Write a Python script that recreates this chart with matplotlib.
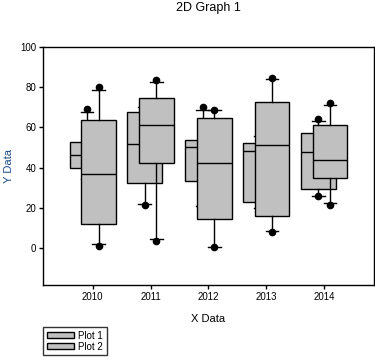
import numpy as np
import matplotlib
matplotlib.use('Agg')
import matplotlib.pyplot as plt
from matplotlib.patches import Patch

plt.rcParams['font.family'] = ['Liberation Sans', 'DejaVu Sans']

years = [2010, 2011, 2012, 2013, 2014]

# Plot 1: whisker low, Q1, median, Q3, whisker high, outliers
p1_low = [34.3, 21.9, 20.9, 19.9, 26.1]
p1_q1 = [39.7, 32.3, 33.6, 22.9, 29.3]
p1_med = [46.2, 51.7, 50.2, 48.2, 47.7]
p1_q3 = [52.7, 67.6, 53.8, 52.2, 57.1]
p1_high = [67.7, 70.0, 68.5, 55.6, 63.2]
p1_out = [[69.0], [21.5], [70.3], [], [64.1, 26.0]]

# Plot 2
p2_low = [2.0, 4.5, 0.8, 8.6, 22.4]
p2_q1 = [12.1, 42.2, 14.4, 15.9, 34.8]
p2_med = [36.8, 61.1, 42.2, 51.2, 43.7]
p2_q3 = [63.7, 74.5, 64.6, 72.5, 61.1]
p2_high = [78.5, 82.5, 68.5, 84.0, 71.0]
p2_out = [[80.0, 1.1], [83.5, 3.6], [68.5, 0.5], [84.6, 7.9], [72.0, 21.5]]


def make_stats(low, q1, med, q3, high, out):
    stats = []
    for i in range(len(low)):
        stats.append({'whislo': low[i], 'q1': q1[i], 'med': med[i],
                      'q3': q3[i], 'whishi': high[i], 'fliers': out[i]})
    return stats


fig = plt.figure(figsize=(3.75, 3.63), dpi=100)
ax = fig.add_axes([0.1147, 0.2149, 0.8823, 0.6556])

box_color = '#C0C0C0'
common = dict(widths=0.6, patch_artist=True, showcaps=True,
              boxprops=dict(facecolor=box_color, edgecolor='black', linewidth=1.0),
              medianprops=dict(color='black', linewidth=1.0),
              whiskerprops=dict(color='black', linewidth=1.0),
              capprops=dict(color='black', linewidth=1.0),
              flierprops=dict(marker='o', markerfacecolor='black',
                              markeredgecolor='black', markersize=4.5))

x = np.array(years, dtype=float)
ax.bxp(make_stats(p1_low, p1_q1, p1_med, p1_q3, p1_high, p1_out),
       positions=x - 0.1, zorder=2, **common)
ax.bxp(make_stats(p2_low, p2_q1, p2_med, p2_q3, p2_high, p2_out),
       positions=x + 0.1, zorder=3, **common)

# shorten caps to SigmaPlot-like width
for line in ax.lines:
    xd = line.get_xdata()
    if len(xd) == 2 and xd[0] != xd[1]:
        yd = line.get_ydata()
        if yd[0] == yd[1] and abs(xd[1] - xd[0]) < 0.35:
            c = (xd[0] + xd[1]) / 2
            line.set_xdata([c - 0.11, c + 0.11])

ax.set_xlim(2009.14, 2014.86)
ax.set_ylim(-18.3, 100)
ax.set_xticks(years)
ax.set_xticklabels([str(y) for y in years], fontsize=7)
ax.set_yticks([0, 20, 40, 60, 80, 100])
ax.set_yticklabels(['0', '20', '40', '60', '80', '100'], fontsize=7)
ax.tick_params(direction='out', length=3, width=1, pad=2)
for s in ax.spines.values():
    s.set_linewidth(1.0)

ax.set_xlabel('X Data', fontsize=8, labelpad=9)
ax.set_ylabel('Y Data', fontsize=8, color='#1a4a8a', labelpad=4)
fig.suptitle('2D Graph 1', fontsize=9, y=0.995, x=0.556)

handles = [Patch(facecolor=box_color, edgecolor='black', linewidth=1.0),
           Patch(facecolor=box_color, edgecolor='black', linewidth=1.0)]
leg = fig.legend(handles, ['Plot 1', 'Plot 2'], loc='upper left',
                 bbox_to_anchor=(0.115, 0.1), fontsize=7, frameon=True,
                 fancybox=False, handlelength=2.8, handleheight=0.6,
                 labelspacing=0.1, borderpad=0.4, handletextpad=0.4,
                 borderaxespad=0)
leg.get_frame().set_edgecolor('black')
leg.get_frame().set_linewidth(1.0)

fig.savefig('out.png', dpi=100)
